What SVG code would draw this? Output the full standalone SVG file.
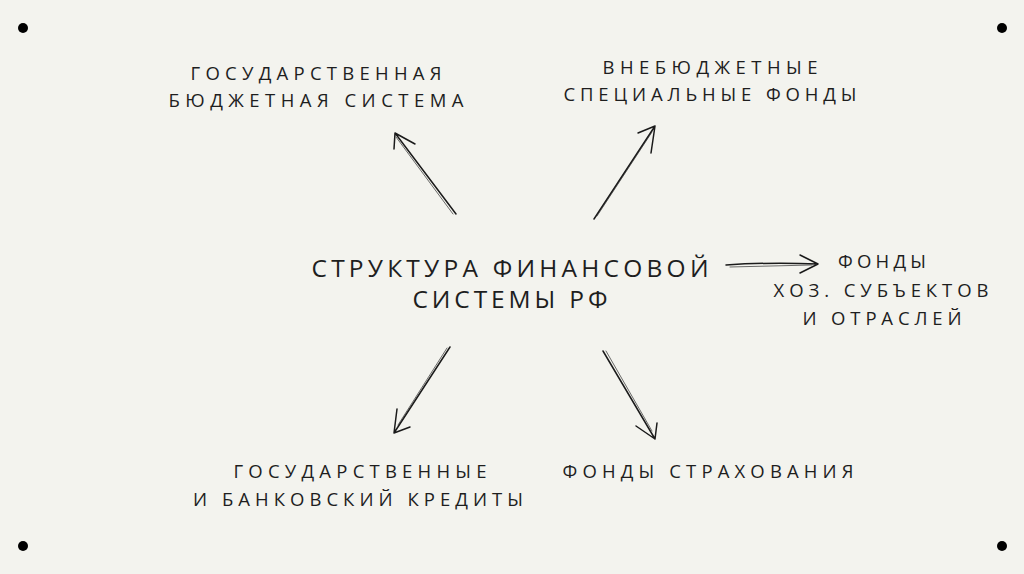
<svg xmlns="http://www.w3.org/2000/svg" width="1024" height="574" viewBox="0 0 1024 574">
<style>
.t{font-family:"Open Sans","Liberation Sans",sans-serif;font-size:18.5px;fill:#1e1e1e;text-anchor:middle}
.c{font-size:24.5px}
.a{fill:none;stroke:#1a1a1a;stroke-width:1.5;stroke-linecap:round;stroke-linejoin:round}
.a2{fill:none;stroke:#333;stroke-width:0.9;stroke-linecap:round;opacity:0.8}
</style>
<rect width="1024" height="574" fill="#f3f3ee"/>
<g id="dots" fill="#000">
<circle cx="23" cy="28" r="5"/><circle cx="1002" cy="28" r="5"/>
<circle cx="23" cy="546" r="5"/><circle cx="1002" cy="546" r="5"/>
</g>
<g id="center"><text class="t c" x="510" y="277" textLength="397" lengthAdjust="spacing">СТРУКТУРА ФИНАНСОВОЙ</text>
<text class="t c" x="510" y="308" textLength="195" lengthAdjust="spacing">СИСТЕМЫ РФ</text></g>
<g id="n1"><text class="t" x="316" y="80" textLength="251" lengthAdjust="spacing">ГОСУДАРСТВЕННАЯ</text>
<text class="t" x="316" y="107" textLength="295" lengthAdjust="spacing">БЮДЖЕТНАЯ СИСТЕМА</text></g>
<g id="n2"><text class="t" x="710" y="74" textLength="215" lengthAdjust="spacing">ВНЕБЮДЖЕТНЫЕ</text>
<text class="t" x="710" y="101" textLength="293" lengthAdjust="spacing">СПЕЦИАЛЬНЫЕ ФОНДЫ</text></g>
<g id="n3"><text class="t" x="882" y="268" textLength="88" lengthAdjust="spacing">ФОНДЫ</text>
<text class="t" x="881" y="297" textLength="215" lengthAdjust="spacing">ХОЗ. СУБЪЕКТОВ</text>
<text class="t" x="882" y="325" textLength="159" lengthAdjust="spacing">И ОТРАСЛЕЙ</text></g>
<g id="n4"><text class="t" x="360" y="478" textLength="253" lengthAdjust="spacing">ГОСУДАРСТВЕННЫЕ</text>
<text class="t" x="358" y="506" textLength="330" lengthAdjust="spacing">И БАНКОВСКИЙ КРЕДИТЫ</text></g>
<g id="n5"><text class="t" x="708" y="478" textLength="291" lengthAdjust="spacing">ФОНДЫ СТРАХОВАНИЯ</text></g>
<g id="connectors">
<path class="a" d="M456 214 L395 133 M394 149 L395 133 L415 144"/>
<path class="a2" d="M453 214 L396 137"/>
<path class="a" d="M594 219 L655 126 M638 133 L655 126 L651 153"/>
<path class="a2" d="M597 216 L652 132"/>
<path class="a" d="M726 265 Q770 262 818 264 M800 255 L818 264 L800 273"/>
<path class="a2" d="M730 267 L812 265"/>
<path class="a" d="M450 347 L394 433 M397 409 L394 433 L410 427"/>
<path class="a2" d="M447 348 L398 425"/>
<path class="a" d="M603 351 L655 439 M636 426 L655 439 L657 423"/>
<path class="a2" d="M606 351 L652 431"/>
</g>
</svg>
